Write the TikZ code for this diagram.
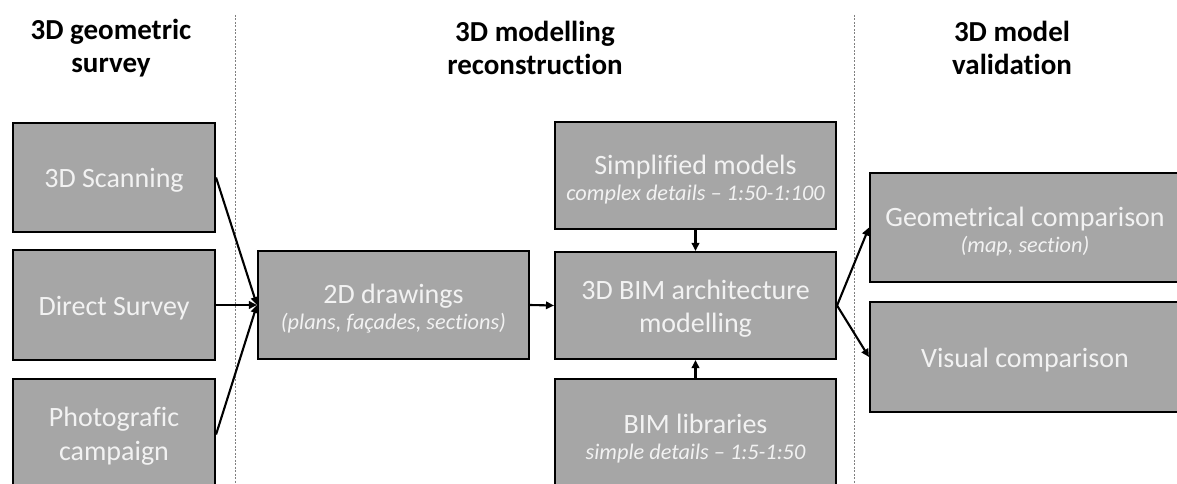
\documentclass[tikz,border=0pt]{standalone}
\usepackage{fontspec}
\setmainfont{Carlito}[Ligatures=NoCommon]
\usetikzlibrary{arrows.meta}
\definecolor{boxfill}{HTML}{A6A6A6}
\definecolor{boxtext}{HTML}{F2F2F2}
\newcommand{\subnotefont}{\fontsize{22.3}{26}\selectfont\itshape}
\tikzset{
  stagebox/.style={draw=black, line width=2.1pt, fill=boxfill, inner sep=0pt},
  stagelabel/.style={text=boxtext, inner sep=0pt, align=center,
    font=\fontsize{28}{34}\selectfont},
  heading/.style={align=center, font=\fontsize{29}{33}\selectfont\bfseries},
  flow/.style={line width=2.1pt, -{Triangle[length=8pt,width=7.5pt]}},
  divider/.style={gray, line width=0.7pt, dash pattern=on 2pt off 1.5pt}
}
\begin{document}
\begin{tikzpicture}[x=1pt, y=-1pt]
\useasboundingbox (0,0) rectangle (1177,484);
\clip (0,0) rectangle (1177,484);

% column dividers
\coordinate (d1t) at (235,15);  \coordinate (d1b) at (235,484);
\coordinate (d2t) at (854,15);  \coordinate (d2b) at (854,484);
\draw[divider] (d1t) -- (d1b);
\draw[divider] (d2t) -- (d2b);

% column headings
\node[heading] (h1) at (111,48) {3D geometric\\survey};
\node[heading] (h2) at (535,48) {3D modelling\\reconstruction};
\node[heading] (h3) at (1012,48) {3D model\\validation};

% survey
\node[stagebox, minimum width=202, minimum height=109] (scan)   at (114,177.5) {};
\node[stagebox, minimum width=202, minimum height=110] (direct) at (114,305) {};
\node[stagebox, minimum width=202, minimum height=111] (photo)  at (114,434.5) {};

% reconstruction
\node[stagebox, minimum width=271, minimum height=108] (draw2d) at (393.5,305) {};
\node[stagebox, minimum width=281, minimum height=107] (simpl)  at (695.5,175.5) {};
\node[stagebox, minimum width=281, minimum height=107] (bim)    at (695.5,305.5) {};
\node[stagebox, minimum width=281, minimum height=111] (lib)    at (695.5,434.5) {};

% validation
\node[stagebox, minimum width=310, minimum height=109] (geo) at (1025,227.5) {};
\node[stagebox, minimum width=310, minimum height=110] (vis) at (1025,357) {};

% box texts, set a little below the box centres
\node[stagelabel] (scan-t)   at ([yshift=-3pt]scan.center)   {3D Scanning};
\node[stagelabel] (direct-t) at ([yshift=-3pt]direct.center) {Direct Survey};
\node[stagelabel] (photo-t)  at ([yshift=-2pt]photo.center)  {Photografic\\campaign};
\node[stagelabel] (draw2d-t) at ([yshift=-4pt]draw2d.center)
  {2D drawings\\[-8pt]{\subnotefont(plans, façades, sections)}};
\node[stagelabel] (simpl-t)  at ([yshift=-4pt]simpl.center)
  {Simplified models\\[-8pt]{\subnotefont complex details -- 1:50-1:100}};
\node[stagelabel] (bim-t)    at ([yshift=-3pt]bim.center)
  {3D BIM architecture\\[-1pt]modelling};
\node[stagelabel] (lib-t)    at ([yshift=-4pt]lib.center)
  {BIM libraries\\[-8pt]{\subnotefont simple details -- 1:5-1:50}};
\node[stagelabel] (geo-t)    at ([yshift=-4pt]geo.center)
  {Geometrical comparison\\[-8pt]{\subnotefont(map, section)}};
\node[stagelabel] (vis-t)    at ([yshift=-3pt]vis.center)    {Visual comparison};

% connectors
\draw[flow] (scan.east) -- (draw2d.west);
\draw[flow] (direct.east) -- (draw2d.west);
\draw[flow] (photo.east) -- (draw2d.west);
\draw[flow] (draw2d.east) -- (bim.west);
\draw[flow] (simpl.south) -- (bim.north);
\draw[flow] (lib.north) -- (bim.south);
\draw[flow] (bim.east) -- (geo.west);
\draw[flow] (bim.east) -- (vis.west);
\end{tikzpicture}
\end{document}
